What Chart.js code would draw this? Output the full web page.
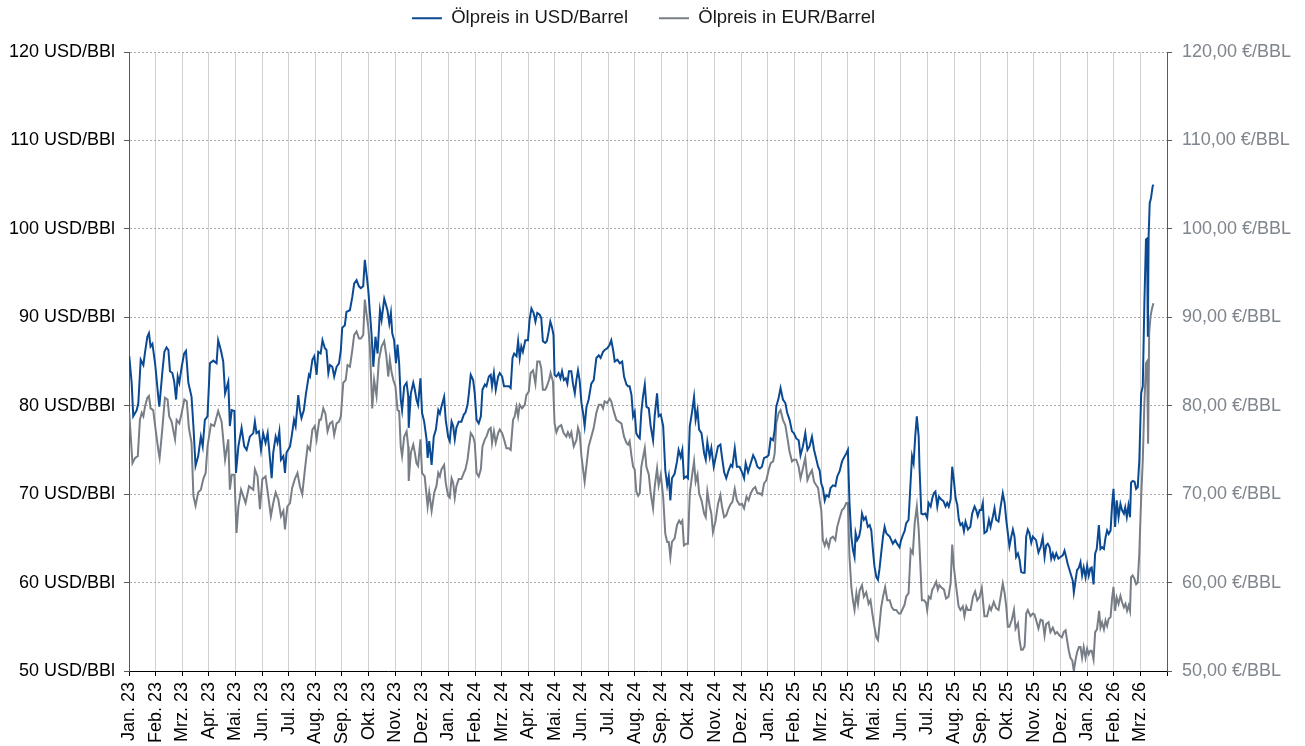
<!DOCTYPE html>
<html><head><meta charset="utf-8">
<script src="https://cdn.jsdelivr.net/npm/chart.js@4.4.1/dist/chart.umd.min.js"></script>
<style>html,body{margin:0;padding:0;background:#fff}#wrap{width:1305px;height:746px}</style>
</head><body><div id="wrap"><canvas id="c" width="1305" height="746"></canvas></div>
<script>
// x = months since start of Jan 2023 (0 = Jan. 23, 38 = Mrz. 26)
const monthLabels = ['Jan. 23','Feb. 23','Mrz. 23','Apr. 23','Mai. 23','Jun. 23','Jul. 23','Aug. 23','Sep. 23','Okt. 23','Nov. 23','Dez. 23',
  'Jan. 24','Feb. 24','Mrz. 24','Apr. 24','Mai. 24','Jun. 24','Jul. 24','Aug. 24','Sep. 24','Okt. 24','Nov. 24','Dez. 24',
  'Jan. 25','Feb. 25','Mrz. 25','Apr. 25','Mai. 25','Jun. 25','Jul. 25','Aug. 25','Sep. 25','Okt. 25','Nov. 25','Dez. 25',
  'Jan. 26','Feb. 26','Mrz. 26'];
const yTickValues = [50,60,70,80,90,100,110,120];

const usdPoints = [[0.01,85.6],[0.10,82.6],[0.16,78.8],[0.29,79.5],[0.35,80.3],[0.44,85.2],[0.54,84.6],[0.60,86.0],[0.69,87.8],[0.75,88.2],[0.81,86.7],[0.88,87.0],[0.98,84.8],[1.10,81.0],[1.14,79.9],[1.25,83.7],[1.33,86.1],[1.41,86.6],[1.48,86.3],[1.54,83.9],[1.63,83.7],[1.70,82.7],[1.77,80.7],[1.83,83.3],[1.89,82.6],[1.98,84.4],[2.07,85.9],[2.14,86.2],[2.23,82.6],[2.35,81.0],[2.42,77.7],[2.50,73.2],[2.60,74.3],[2.70,76.5],[2.77,75.4],[2.85,78.4],[2.95,78.8],[3.04,84.8],[3.17,85.1],[3.29,84.8],[3.35,87.4],[3.45,86.3],[3.54,85.0],[3.61,81.4],[3.73,82.7],[3.79,77.7],[3.86,79.5],[3.96,79.4],[4.02,72.4],[4.11,75.4],[4.23,77.5],[4.33,75.4],[4.42,75.0],[4.54,76.5],[4.67,76.9],
[4.73,78.2],[4.79,76.9],[4.88,77.1],[4.96,75.0],[5.04,76.9],[5.13,75.8],[5.21,76.9],[5.30,73.9],[5.36,71.8],[5.42,74.7],[5.51,76.5],[5.58,75.8],[5.65,77.1],[5.71,73.9],[5.80,74.3],[5.86,72.4],[5.92,74.7],[6.05,75.4],[6.11,76.5],[6.20,78.4],[6.26,77.7],[6.36,81.2],[6.42,79.5],[6.48,78.6],[6.57,79.5],[6.65,81.4],[6.76,83.5],[6.80,83.3],[6.89,85.2],[6.96,85.6],[7.05,83.5],[7.11,86.1],[7.20,85.9],[7.27,87.4],[7.36,86.5],[7.42,86.3],[7.49,83.7],[7.55,84.6],[7.64,84.4],[7.71,83.3],[7.80,84.4],[7.89,84.8],[7.96,86.3],[8.01,88.8],[8.11,89.1],[8.17,90.6],[8.30,90.8],[8.39,92.3],[8.46,93.8],[8.55,94.2],[8.64,93.5],[8.71,93.3],[8.80,93.5],[8.86,96.5],[8.92,95.0],[8.99,93.1],[9.05,90.6],[9.11,88.2],[9.18,84.4],[9.26,87.8],[9.34,85.9],[9.43,90.8],[9.49,89.7],[9.59,92.1],
[9.71,90.8],[9.78,89.3],[9.84,90.5],[9.89,88.2],[9.96,87.4],[10.03,84.8],[10.09,86.9],[10.15,84.8],[10.21,80.7],[10.26,79.5],[10.34,82.2],[10.43,82.6],[10.49,81.1],[10.51,77.5],[10.59,81.4],[10.68,82.6],[10.74,81.8],[10.80,80.7],[10.86,80.1],[10.95,83.1],[11.01,79.2],[11.09,78.2],[11.18,76.2],[11.22,74.1],[11.28,76.0],[11.37,73.3],[11.45,76.5],[11.53,77.3],[11.62,79.5],[11.68,79.1],[11.74,79.9],[11.84,81.0],[11.90,78.4],[11.99,76.5],[12.05,76.0],[12.12,78.2],[12.18,77.7],[12.24,76.2],[12.30,77.5],[12.39,78.2],[12.49,78.2],[12.58,79.0],[12.64,79.2],[12.72,80.1],[12.77,81.4],[12.84,83.5],[12.93,82.9],[12.99,81.4],[13.06,78.4],[13.14,78.0],[13.22,78.8],[13.28,81.8],[13.37,82.4],[13.43,82.2],[13.52,83.3],[13.59,83.5],[13.64,82.2],[13.71,83.7],[13.78,81.8],[13.87,83.3],[13.93,83.7],[14.02,83.3],[14.09,82.2],[14.18,82.2],[14.27,82.2],[14.34,82.0],[14.41,85.4],[14.47,85.9],
[14.56,85.6],[14.62,87.3],[14.68,85.4],[14.74,86.7],[14.80,86.1],[14.89,87.4],[14.99,87.4],[15.05,89.7],[15.12,91.0],[15.20,90.5],[15.27,89.5],[15.34,90.5],[15.43,90.3],[15.49,89.9],[15.55,87.3],[15.64,87.1],[15.70,87.3],[15.77,88.4],[15.83,89.5],[15.89,88.9],[15.95,88.0],[15.99,83.5],[16.06,83.3],[16.14,83.7],[16.21,83.1],[16.27,83.9],[16.34,82.9],[16.41,83.1],[16.47,82.5],[16.53,83.9],[16.62,83.9],[16.68,82.5],[16.75,81.4],[16.81,82.9],[16.87,84.0],[16.93,82.9],[17.00,80.3],[17.06,79.2],[17.12,77.7],[17.19,79.9],[17.27,80.7],[17.37,82.5],[17.46,82.9],[17.56,85.4],[17.65,85.7],[17.72,85.4],[17.81,86.1],[17.87,86.3],[17.97,86.5],[18.06,86.9],[18.12,87.4],[18.19,86.3],[18.25,85.0],[18.35,85.2],[18.44,84.8],[18.53,85.0],[18.60,83.3],[18.69,82.4],[18.75,82.2],[18.81,82.2],[18.88,81.2],[18.94,78.8],[19.00,79.3],[19.06,76.9],[19.13,76.5],[19.19,76.3],[19.25,79.3],[19.31,81.0],
[19.38,82.4],[19.44,79.9],[19.53,79.7],[19.60,77.7],[19.69,76.1],[19.75,78.8],[19.84,81.4],[19.90,78.8],[19.98,79.0],[20.07,77.7],[20.15,72.7],[20.22,71.0],[20.28,72.0],[20.34,69.3],[20.40,71.8],[20.50,72.3],[20.59,73.7],[20.65,75.0],[20.73,74.2],[20.79,75.0],[20.85,71.8],[20.94,72.0],[21.00,71.8],[21.07,77.7],[21.15,79.2],[21.23,81.0],[21.29,78.4],[21.36,79.5],[21.42,77.3],[21.51,76.9],[21.61,74.6],[21.67,73.9],[21.73,75.9],[21.82,74.2],[21.88,75.2],[21.97,73.1],[22.04,74.1],[22.13,75.4],[22.22,75.6],[22.28,74.2],[22.36,72.5],[22.44,71.8],[22.53,72.7],[22.61,73.3],[22.67,73.1],[22.76,75.2],[22.84,73.1],[22.94,73.1],[23.03,72.5],[23.11,71.8],[23.17,73.5],[23.26,72.5],[23.36,73.5],[23.45,74.4],[23.53,73.9],[23.61,73.1],[23.70,72.9],[23.78,73.1],[23.86,74.1],[23.95,74.2],[24.03,74.4],[24.11,76.3],[24.20,76.1],
[24.26,77.3],[24.32,79.9],[24.41,80.9],[24.48,82.0],[24.57,80.7],[24.66,80.3],[24.73,79.2],[24.82,78.4],[24.91,77.1],[24.98,76.9],[25.07,76.3],[25.16,76.1],[25.23,74.4],[25.32,75.4],[25.41,76.9],[25.49,75.0],[25.57,75.4],[25.66,76.5],[25.74,75.0],[25.82,74.0],[25.89,73.1],[25.95,72.7],[26.01,71.2],[26.07,70.7],[26.14,69.3],[26.20,69.9],[26.29,69.7],[26.36,70.7],[26.45,71.0],[26.54,70.9],[26.61,72.0],[26.70,72.6],[26.79,73.7],[26.89,74.3],[26.95,74.6],[27.01,75.0],[27.07,69.0],[27.14,65.2],[27.20,63.7],[27.26,62.9],[27.30,65.6],[27.36,64.8],[27.43,65.2],[27.49,66.1],[27.54,67.8],[27.61,67.1],[27.68,67.4],[27.76,66.3],[27.83,66.5],[27.89,65.9],[27.95,63.7],[28.01,61.8],[28.08,60.6],[28.14,60.3],[28.20,61.6],[28.26,63.3],[28.33,65.2],[28.39,66.3],[28.45,65.6],[28.51,65.4],[28.58,65.2],[28.64,64.8],[28.70,64.4],[28.79,64.8],[28.86,64.4],[28.95,64.0],[29.01,64.8],[29.08,65.4],
[29.14,65.8],[29.20,66.7],[29.29,67.1],[29.37,71.6],[29.42,74.3],[29.48,73.5],[29.54,76.5],[29.60,78.8],[29.67,76.5],[29.70,73.1],[29.77,67.8],[29.83,67.7],[29.92,67.8],[29.99,67.3],[30.04,69.0],[30.12,68.6],[30.18,69.5],[30.24,70.1],[30.30,70.3],[30.37,68.6],[30.43,69.7],[30.52,69.4],[30.60,69.2],[30.68,68.6],[30.74,69.0],[30.80,68.6],[30.87,69.4],[30.93,73.1],[30.99,71.6],[31.06,69.5],[31.12,68.8],[31.18,67.1],[31.24,66.5],[31.31,66.7],[31.37,65.8],[31.43,66.9],[31.52,66.0],[31.61,66.3],[31.68,67.8],[31.77,68.6],[31.83,68.2],[31.89,67.5],[31.96,68.2],[32.02,68.2],[32.08,69.0],[32.14,65.6],[32.23,65.8],[32.31,67.1],[32.37,66.3],[32.46,67.5],[32.52,68.4],[32.58,67.1],[32.67,66.9],[32.75,68.6],[32.83,70.1],[32.90,69.0],[32.96,67.1],[33.02,65.6],[33.08,64.1],[33.15,65.2],[33.21,66.0],[33.27,65.2],[33.33,62.9],[33.40,63.3],[33.46,62.6],[33.52,61.2],[33.58,61.1],[33.65,61.1],[33.71,65.2],[33.77,66.0],[33.83,65.6],[33.90,64.5],[33.96,65.2],
[34.02,65.0],[34.08,64.8],[34.17,63.4],[34.25,64.0],[34.33,65.1],[34.40,62.9],[34.46,64.2],[34.52,64.4],[34.59,64.0],[34.65,62.7],[34.71,63.3],[34.77,62.7],[34.84,63.3],[34.92,62.7],[35.00,62.9],[35.09,63.1],[35.15,63.6],[35.21,62.9],[35.27,62.1],[35.34,61.4],[35.40,60.8],[35.46,60.2],[35.50,58.9],[35.56,60.2],[35.62,61.4],[35.69,61.7],[35.75,62.3],[35.81,60.8],[35.87,61.7],[35.94,60.6],[36.00,61.9],[36.06,60.8],[36.12,61.6],[36.17,61.7],[36.24,59.8],[36.30,63.3],[36.36,63.8],[36.44,66.5],[36.50,63.8],[36.56,64.0],[36.63,63.8],[36.69,65.1],[36.75,65.9],[36.81,65.5],[36.88,65.9],[36.94,68.9],[36.99,70.6],[37.05,66.3],[37.11,69.3],[37.18,67.4],[37.25,68.9],[37.31,68.2],[37.38,67.8],[37.43,68.5],[37.49,67.4],[37.55,68.7],[37.61,67.4],[37.65,71.3],[37.71,71.5],[37.78,71.4],[37.84,70.6],[37.90,70.8],[37.96,73.8],[38.03,81.4],[38.09,82.2],[38.15,91.6],[38.21,98.8],[38.25,98.9],[38.28,87.8],[38.31,99.2],[38.35,102.9],[38.40,103.5],[38.46,104.8],[38.49,105.0]];

const eurPoints = [[0.01,79.2],[0.13,73.5],[0.23,74.1],[0.33,74.3],[0.41,78.4],[0.48,79.2],[0.54,78.8],[0.60,79.9],[0.69,80.9],[0.75,81.1],[0.81,79.7],[0.91,79.5],[1.00,77.3],[1.10,75.0],[1.15,74.1],[1.25,77.3],[1.35,80.9],[1.45,80.7],[1.51,78.8],[1.60,78.2],[1.73,76.2],[1.79,78.4],[1.89,78.0],[1.98,79.2],[2.08,80.7],[2.17,80.5],[2.25,77.5],[2.35,75.8],[2.42,69.8],[2.50,68.7],[2.60,70.2],[2.70,70.5],[2.79,71.7],[2.88,72.4],[2.95,75.4],[3.08,77.9],[3.20,77.7],[3.35,79.4],[3.48,78.2],[3.61,73.9],[3.73,76.2],[3.79,70.5],[3.86,72.2],[3.96,72.2],[4.04,65.6],[4.11,68.6],[4.21,70.5],[4.29,69.8],[4.38,69.0],[4.51,70.9],[4.67,70.5],
[4.73,72.8],[4.83,72.0],[4.92,68.3],[5.01,71.7],[5.13,72.0],[5.23,69.8],[5.33,67.5],[5.42,69.0],[5.51,70.2],[5.61,69.4],[5.71,67.5],[5.80,68.1],[5.86,66.0],[5.95,68.6],[6.05,69.0],[6.13,70.7],[6.23,71.7],[6.33,72.4],[6.42,70.9],[6.51,70.0],[6.61,72.8],[6.71,75.4],[6.80,75.0],[6.89,77.3],[6.98,77.7],[7.05,76.2],[7.15,78.4],[7.21,78.4],[7.30,79.7],[7.38,79.1],[7.46,77.1],[7.55,78.0],[7.64,78.2],[7.71,76.7],[7.80,78.0],[7.89,78.2],[7.96,78.8],[8.05,82.6],[8.14,82.9],[8.21,84.6],[8.30,84.4],[8.39,86.3],[8.46,88.0],[8.55,88.4],[8.64,87.6],[8.71,87.6],[8.80,88.0],[8.86,92.0],[8.92,90.5],[8.99,88.9],[9.05,86.7],[9.14,79.7],[9.21,82.9],[9.30,81.1],[9.39,85.2],[9.49,86.7],[9.59,87.3],
[9.67,85.6],[9.74,83.3],[9.80,85.2],[9.86,83.9],[9.93,82.9],[10.01,82.2],[10.09,79.5],[10.15,79.4],[10.21,75.4],[10.26,74.3],[10.34,76.5],[10.43,77.1],[10.49,75.4],[10.51,71.5],[10.59,74.7],[10.68,75.6],[10.74,74.7],[10.80,73.5],[10.86,73.2],[10.95,76.2],[11.01,72.4],[11.11,72.0],[11.18,69.8],[11.22,68.6],[11.28,70.2],[11.37,68.1],[11.47,70.2],[11.55,70.9],[11.62,72.4],[11.68,72.0],[11.74,72.8],[11.84,73.3],[11.90,71.3],[11.99,69.8],[12.05,69.6],[12.12,71.8],[12.18,71.3],[12.24,69.6],[12.30,70.9],[12.39,71.7],[12.49,71.7],[12.58,72.4],[12.64,72.8],[12.72,73.9],[12.78,75.4],[12.84,76.9],[12.93,76.5],[12.99,75.8],[13.06,72.4],[13.14,72.0],[13.22,72.8],[13.28,75.4],[13.37,76.2],[13.43,76.5],[13.52,77.3],[13.59,77.5],[13.64,75.8],[13.71,77.1],[13.78,75.8],[13.87,76.9],[13.93,77.3],[14.02,76.9],[14.09,76.2],[14.18,75.2],[14.27,75.2],[14.34,75.0],[14.43,78.4],
[14.49,78.8],[14.56,79.9],[14.62,78.8],[14.68,80.1],[14.77,79.7],[14.87,80.1],[14.93,81.2],[15.02,81.6],[15.09,83.7],[15.18,84.0],[15.27,82.5],[15.34,85.0],[15.43,85.0],[15.49,84.2],[15.55,81.8],[15.64,81.8],[15.70,82.2],[15.78,82.9],[15.84,83.7],[15.93,82.7],[15.99,78.0],[16.06,77.0],[16.14,77.6],[16.24,77.8],[16.33,76.9],[16.43,76.5],[16.49,77.0],[16.56,76.5],[16.62,77.0],[16.71,75.4],[16.81,76.1],[16.87,77.5],[16.93,76.9],[17.00,74.3],[17.06,72.8],[17.12,71.4],[17.19,73.3],[17.27,75.4],[17.37,76.5],[17.46,77.5],[17.56,79.2],[17.65,80.1],[17.75,80.1],[17.81,79.7],[17.87,80.5],[17.97,80.3],[18.06,80.8],[18.12,80.5],[18.22,79.3],[18.31,78.4],[18.40,78.2],[18.50,78.0],[18.60,76.5],[18.69,75.8],[18.75,75.6],[18.81,76.0],[18.88,74.3],[18.94,73.1],[19.00,72.8],[19.06,70.3],[19.13,69.8],[19.19,70.1],[19.25,73.1],[19.31,74.1],
[19.38,75.2],[19.44,73.1],[19.53,72.2],[19.60,70.1],[19.69,68.4],[19.75,70.8],[19.84,72.9],[19.90,71.0],[19.98,72.2],[20.07,69.7],[20.15,65.5],[20.22,64.6],[20.28,64.6],[20.34,62.9],[20.40,64.6],[20.50,65.0],[20.59,66.5],[20.67,67.0],[20.73,66.7],[20.79,67.0],[20.85,64.2],[20.94,64.4],[21.00,64.4],[21.07,70.1],[21.15,72.0],[21.23,73.7],[21.29,71.4],[21.36,72.2],[21.42,70.1],[21.51,69.3],[21.61,67.8],[21.67,67.4],[21.73,70.3],[21.82,68.6],[21.88,67.8],[21.94,65.7],[22.04,67.0],[22.13,68.9],[22.22,69.9],[22.28,68.6],[22.36,67.4],[22.44,67.6],[22.53,68.4],[22.61,68.9],[22.67,69.1],[22.76,70.6],[22.84,69.3],[22.94,68.8],[23.03,68.9],[23.11,68.4],[23.20,69.7],[23.28,69.3],[23.36,70.1],[23.45,70.6],[23.53,70.8],[23.61,70.1],[23.70,70.1],[23.78,69.9],[23.86,71.2],[23.95,71.6],[24.03,72.7],[24.11,73.5],[24.20,73.7],
[24.26,74.6],[24.32,78.0],[24.41,79.2],[24.48,79.5],[24.57,78.4],[24.66,77.8],[24.73,76.5],[24.82,74.8],[24.91,73.7],[24.98,73.9],[25.07,73.9],[25.16,73.1],[25.23,71.8],[25.32,72.9],[25.41,74.1],[25.49,71.6],[25.57,72.2],[25.66,72.7],[25.74,71.4],[25.82,71.0],[25.89,70.7],[25.95,69.3],[26.01,68.2],[26.07,64.8],[26.14,64.2],[26.20,64.8],[26.29,64.0],[26.36,65.0],[26.45,65.2],[26.54,64.8],[26.61,66.3],[26.70,67.3],[26.79,68.2],[26.86,68.4],[26.95,69.0],[27.01,69.0],[27.07,62.9],[27.14,59.5],[27.20,58.0],[27.26,56.9],[27.33,58.8],[27.39,57.6],[27.45,59.1],[27.54,59.7],[27.61,58.4],[27.70,58.9],[27.79,57.6],[27.86,58.0],[27.93,56.5],[27.99,55.3],[28.08,53.8],[28.14,53.5],[28.20,55.3],[28.26,57.2],[28.33,58.4],[28.41,59.5],[28.49,58.0],[28.58,58.0],[28.66,57.2],[28.74,56.9],[28.83,56.9],[28.92,56.5],[28.99,56.5],[29.08,57.1],
[29.14,57.5],[29.20,58.4],[29.29,58.8],[29.37,63.7],[29.45,63.3],[29.52,66.7],[29.60,68.6],[29.67,66.0],[29.73,62.2],[29.79,58.0],[29.87,58.0],[29.95,57.7],[29.99,56.9],[30.05,58.4],[30.12,58.2],[30.18,59.2],[30.24,59.5],[30.33,60.1],[30.39,59.2],[30.45,59.7],[30.54,59.4],[30.62,59.2],[30.70,58.2],[30.79,58.4],[30.87,59.9],[30.93,64.3],[30.99,61.8],[31.08,59.5],[31.17,57.3],[31.24,56.9],[31.33,57.3],[31.39,56.2],[31.46,57.3],[31.52,56.9],[31.62,56.9],[31.71,58.4],[31.79,59.0],[31.87,58.0],[31.96,58.4],[32.04,59.4],[32.14,56.2],[32.24,56.2],[32.33,57.3],[32.39,56.9],[32.49,57.8],[32.58,57.1],[32.67,56.9],[32.75,58.4],[32.83,59.9],[32.90,58.8],[32.96,57.3],[33.02,55.0],[33.08,55.0],[33.17,55.8],[33.25,56.9],[33.31,54.8],[33.40,55.4],[33.46,53.5],[33.52,52.4],[33.58,52.4],[33.65,52.8],[33.71,56.5],[33.77,56.9],[33.87,56.2],[33.96,56.5],
[34.02,56.4],[34.08,55.8],[34.17,54.8],[34.25,55.8],[34.33,55.7],[34.40,54.0],[34.46,55.3],[34.55,55.5],[34.62,54.4],[34.71,54.9],[34.80,54.2],[34.87,54.4],[34.96,54.0],[35.05,53.8],[35.12,54.4],[35.19,54.6],[35.25,53.4],[35.31,52.3],[35.37,51.5],[35.44,51.2],[35.50,50.0],[35.56,51.2],[35.62,52.1],[35.69,52.7],[35.75,52.7],[35.81,51.5],[35.87,52.7],[35.94,51.5],[36.00,52.5],[36.06,51.9],[36.12,52.3],[36.17,52.3],[36.24,51.3],[36.30,54.4],[36.37,54.7],[36.45,56.8],[36.50,54.9],[36.56,55.5],[36.63,54.7],[36.69,55.7],[36.75,55.1],[36.81,55.9],[36.88,56.1],[36.94,58.3],[36.99,59.5],[37.05,56.8],[37.11,58.3],[37.18,57.6],[37.25,58.5],[37.31,57.8],[37.38,57.2],[37.44,57.6],[37.50,56.8],[37.56,57.4],[37.61,56.8],[37.65,60.6],[37.71,60.8],[37.78,60.4],[37.84,59.8],[37.90,60.0],[37.96,63.3],[38.03,69.7],[38.09,73.8],[38.15,80.3],[38.21,84.8],[38.25,85.0],[38.29,75.7],[38.33,88.2],[38.38,90.1],[38.43,90.9],[38.49,91.6]];

const FONT = '"Liberation Sans", Arial, Helvetica, sans-serif';
Chart.defaults.font.family = FONT;
Chart.defaults.font.size = 18;
Chart.defaults.color = '#000';

// legend box: fixed height so the plot starts at the same place; legend drawn a bit higher/left
const legendPlace = {
  id: 'legendPlace',
  beforeLayout(chart) {
    const lg = chart.legend;
    if (lg && !lg.__fixed) {
      const f = lg.fit;
      lg.fit = function () { f.call(this); this.height = 52; };
      lg.__fixed = true;
    }
  },
  afterLayout(chart) {
    const lg = chart.legend;
    if (lg) { lg.top -= 22; lg.bottom -= 22; lg.left -= 9; lg.right -= 9; }
  }
};

new Chart(document.getElementById('c'), {
  type: 'line',
  data: {
    datasets: [
      { label: 'Ölpreis in USD/Barrel', data: usdPoints.map(([x, y]) => ({ x, y })), yAxisID: 'y',
        borderColor: '#0b4a93', backgroundColor: '#0b4a93', borderWidth: 2, pointRadius: 0, tension: 0 },
      { label: 'Ölpreis in EUR/Barrel', data: eurPoints.map(([x, y]) => ({ x, y })), yAxisID: 'y2',
        borderColor: '#787e86', backgroundColor: '#787e86', borderWidth: 2, pointRadius: 0, tension: 0 }
    ]
  },
  options: {
    responsive: false, animation: false, events: [],
    layout: { padding: 0 },
    plugins: {
      tooltip: { enabled: false },
      legend: { position: 'top',
        labels: { usePointStyle: true, pointStyle: 'line', pointStyleWidth: 30, padding: 31, color: '#1a1a1a', font: { size: 18.5 } } }
    },
    scales: {
      x: { type: 'linear', min: 0, max: 39,
        afterBuildTicks(s) { s.ticks = monthLabels.map((_, i) => ({ value: i })).concat([{ value: 39 }]); },
        ticks: { autoSkip: false, maxRotation: 90, minRotation: 90, padding: 6, color: '#000',
          callback: (v) => monthLabels[v] !== undefined ? monthLabels[v] : '' },
        grid: { color: '#d0d0d0', lineWidth: 1, tickLength: 5, tickColor: '#000' },
        border: { color: '#000', width: 1 },
        afterFit(s) { s.height = 75; } },
      y: { position: 'left', min: 50, max: 120,
        afterBuildTicks(s) { s.ticks = yTickValues.map(v => ({ value: v })); },
        ticks: { padding: 9, color: '#000', callback: (v) => v + ' USD/BBl' },
        grid: { color: '#a8a8a8', lineWidth: 1, tickLength: 5, tickColor: '#595959' },
        border: { color: '#595959', width: 1, dash: [2, 2] },
        afterFit(s) { s.width = 129; } },
      y2: { position: 'right', min: 50, max: 120,
        afterBuildTicks(s) { s.ticks = yTickValues.map(v => ({ value: v })); },
        ticks: { padding: 10, color: '#7f858c', callback: (v) => v.toFixed(2).replace('.', ',') + ' €/BBL' },
        grid: { drawOnChartArea: false, tickLength: 5, tickColor: '#595959' },
        border: { color: '#595959', width: 1 },
        afterFit(s) { s.width = 138; } }
    }
  },
  plugins: [legendPlace]
});
</script>
</body></html>
